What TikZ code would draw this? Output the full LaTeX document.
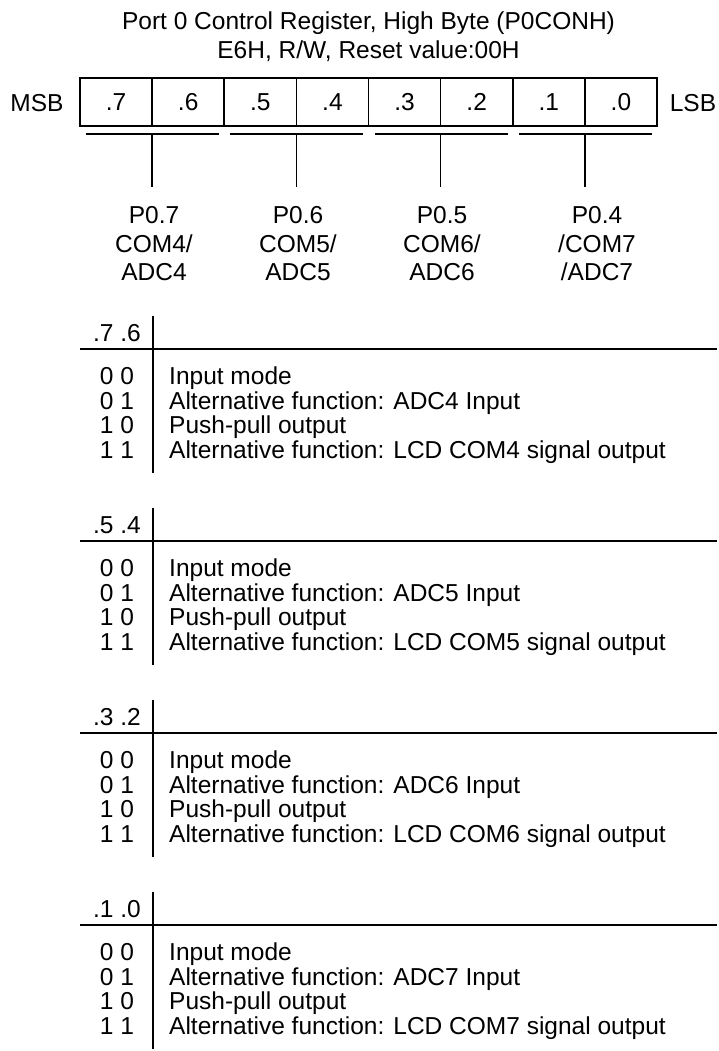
\documentclass[tikz,border=0pt]{standalone}
\usepackage{fontspec}
\setmainfont{Liberation Sans}
\begin{document}
\begin{tikzpicture}[x=1pt,y=-1pt,
  txt/.style={font=\fontsize{24.5}{28}\selectfont, inner sep=0pt, anchor=base},
  desc/.style={txt, anchor=base west},
  cell/.style={draw, line width=1.6pt, minimum width=72.125pt, minimum height=48pt, inner sep=0pt, font=\fontsize{24.5}{28}\selectfont},
  ln/.style={line width=1.6pt},
  ]
\useasboundingbox (0,0) rectangle (718,1051);
% title
\node[txt] (t1) at (368.5,29.6) {Port 0 Control Register, High Byte (P0CONH)};
\node[txt] (t2) at (368.5,58.6) {E6H, R/W, Reset value:00H};
% register
\node[txt] (msb) at (37,111.6) {MSB};
\node[txt] (lsb) at (693,111.6) {LSB};
\foreach \i/\lab in {0/.7,1/.6,2/.5,3/.4,4/.3,5/.2,6/.1,7/.0}{
  \node[cell] (c\i) at ({80+72.125*\i+36.0625},102) {\lab};
}
% underlines and drops
\foreach \j in {0,1,2,3}{
  \coordinate (ua\j) at ({86+144.25*\j},134);
  \coordinate (ub\j) at ({219+144.25*\j},134);
  \coordinate (um\j) at ({152.125+144.25*\j},134);
  \coordinate (ve\j) at ({152.125+144.25*\j},187);
  \draw[ln] (ua\j) -- (ub\j);
  \draw[ln] (um\j) -- (ve\j);
}
% pin labels
\foreach \j/\x/\a/\b/\c in {0/154/P0.7/{COM4/}/ADC4, 1/298/P0.6/{COM5/}/ADC5, 2/442/P0.5/{COM6/}/ADC6, 3/597/P0.4/{/COM7}/{/ADC7}}{
  \node[txt] (pa\j) at (\x,223.6) {\a};
  \node[txt] (pb\j) at (\x,252.1) {\b};
  \node[txt] (pc\j) at (\x,280.6) {\c};
}
% tables
\foreach \k/\hd/\cn in {0/{.7 .6}/4, 1/{.5 .4}/5, 2/{.3 .2}/6, 3/{.1 .0}/7}{
  \pgfmathsetmacro\yh{333+192*\k}
  \node[txt] (h\k) at (117,\yh+8.6) {\hd};
  \coordinate (rl\k) at (80,\yh+16);
  \coordinate (rr\k) at (717,\yh+16);
  \coordinate (vt\k) at (153,\yh-17);
  \coordinate (vb\k) at (153,\yh+140);
  \draw[ln] (rl\k) -- (rr\k);
  \draw[ln] (vt\k) -- (vb\k);
  \node[txt]  (ka\k) at (117,\yh+51.6) {0 0};
  \node[desc] (da\k) at (169,\yh+51.6) {Input mode};
  \node[txt]  (kb\k) at (117,\yh+76.1) {0 1};
  \node[desc] (db\k) at (169,\yh+76.1) {Alternative function: ADC\cn{} Input};
  \node[txt]  (kc\k) at (117,\yh+100.6) {1 0};
  \node[desc] (dc\k) at (169,\yh+100.6) {Push-pull output};
  \node[txt]  (kd\k) at (117,\yh+125.1) {1 1};
  \node[desc] (dd\k) at (169,\yh+125.1) {Alternative function: LCD COM\cn{} signal output};
}
\end{tikzpicture}
\end{document}
